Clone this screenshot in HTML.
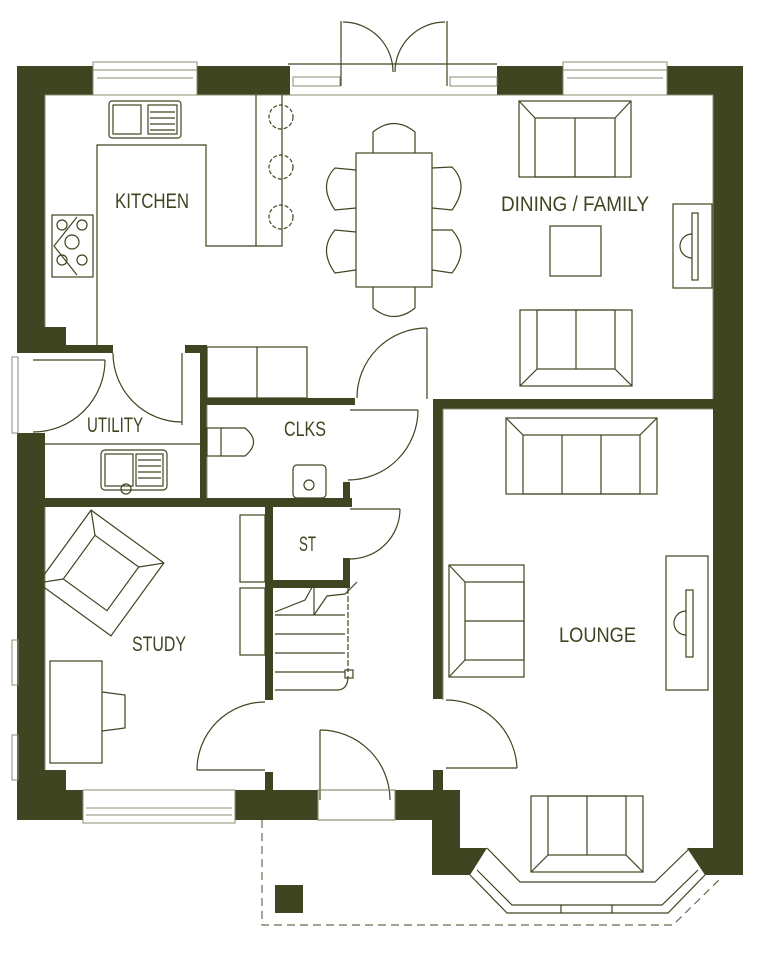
<!DOCTYPE html>
<html><head><meta charset="utf-8"><style>
html,body{margin:0;padding:0;background:#fff;}
svg{display:block;}
text{font-family:"Liberation Sans",sans-serif;fill:#3f4520;font-size:21px;}
</style></head><body>
<svg width="760" height="960" viewBox="0 0 760 960" xmlns="http://www.w3.org/2000/svg">
<g fill="#3f4520" stroke="none">
<!-- top walls -->
<rect x="17" y="66" width="76" height="29"/>
<rect x="197" y="66" width="93" height="29"/>
<rect x="497" y="66" width="66" height="29"/>
<rect x="667" y="66" width="76" height="29"/>
<!-- left wall -->
<rect x="17" y="66" width="28" height="280"/>
<rect x="17" y="327" width="49" height="20"/>
<rect x="17" y="345" width="96" height="8"/>
<rect x="17" y="433" width="28" height="387"/>
<rect x="17" y="770" width="49" height="22"/>
<!-- interior -->
<rect x="185" y="345" width="22" height="8"/>
<rect x="200" y="345" width="7" height="153"/>
<rect x="207" y="398" width="148" height="7"/>
<rect x="17" y="498" width="335" height="9"/>
<rect x="343" y="482" width="7" height="25"/>
<rect x="265" y="507" width="8" height="193"/>
<rect x="273" y="580" width="77" height="8"/>
<rect x="343" y="558" width="7" height="28"/>
<rect x="433" y="399" width="310" height="10"/>
<rect x="433" y="399" width="10" height="300"/>
<rect x="433" y="770" width="10" height="22"/>
<rect x="265" y="772" width="8" height="20"/>
<!-- right wall -->
<rect x="713" y="66" width="30" height="809"/>
<!-- bottom -->
<rect x="17" y="790" width="66" height="30"/>
<rect x="235" y="790" width="83" height="30"/>
<rect x="395" y="790" width="65" height="30"/>
<rect x="432" y="790" width="28" height="85"/>
<polygon points="432,848 487,848 470,875 432,875"/>
<polygon points="687,848 743,848 743,875 705,875"/>
<rect x="275" y="885" width="28" height="28"/>
</g>
<g fill="none" stroke="#8b8b70" stroke-width="1">
<rect x="93" y="62" width="104" height="33"/>
<line x1="93" y1="70" x2="197" y2="70"/><line x1="97" y1="78" x2="193" y2="78"/>
<rect x="563" y="62" width="104" height="33"/>
<line x1="563" y1="70" x2="667" y2="70"/><line x1="567" y1="78" x2="663" y2="78"/>
<rect x="83" y="790" width="152" height="33"/>
<line x1="86" y1="808" x2="232" y2="808"/><line x1="86" y1="815" x2="232" y2="815"/>
<rect x="293" y="77" width="47" height="9"/><rect x="450" y="77" width="47" height="9"/>
<rect x="12" y="357" width="6" height="76"/>
<rect x="12" y="640" width="6" height="45"/><rect x="12" y="735" width="6" height="45"/>
<line x1="45" y1="95" x2="713" y2="95"/>
<line x1="45" y1="95" x2="45" y2="327"/>
<line x1="443" y1="409" x2="713" y2="409"/>
<line x1="713" y1="95" x2="713" y2="399"/>
<line x1="443" y1="409" x2="443" y2="700"/>
<line x1="45" y1="507" x2="45" y2="770"/>
<line x1="207" y1="405" x2="207" y2="498"/>
</g>
<g fill="none" stroke="#3f4520" stroke-width="1.2">
<!-- bay -->
<polyline points="470,875 507,913 668,913 705,875"/>
<polyline points="477,870 512,905 662,905 698,870"/>
<polyline points="487,848 520,882 655,882 690,848"/>
<line x1="561" y1="905" x2="561" y2="913"/><line x1="612" y1="905" x2="612" y2="913"/>
<!-- dashed -->
<polyline points="262,820 262,925 673,925 722,877" stroke-dasharray="8,5" stroke="#6a6a50"/>
<!-- kitchen units -->
<polyline points="97,345 97,145 206,145 206,246 282,246 282,95"/>
<line x1="256" y1="95" x2="256" y2="246"/>
<g stroke-dasharray="4,2"><circle cx="281" cy="117" r="12"/><circle cx="281" cy="167" r="12"/><circle cx="281" cy="217" r="12"/></g>
<rect x="109" y="101" width="72" height="37" rx="3"/>
<rect x="113" y="105" width="28" height="29"/><rect x="148" y="105" width="29" height="29"/>
<line x1="150" y1="112" x2="175" y2="112"/><line x1="150" y1="118" x2="175" y2="118"/><line x1="150" y1="124" x2="175" y2="124"/><line x1="150" y1="130" x2="175" y2="130"/>
<rect x="52" y="215" width="41" height="62"/>
<circle cx="62" cy="225" r="5"/><circle cx="82" cy="225" r="5"/><circle cx="72" cy="242" r="7"/><circle cx="62" cy="260" r="5"/><circle cx="82" cy="260" r="5"/>
<polyline points="77,217 54,246 77,275"/>
<!-- dining table & chairs -->
<rect x="356" y="153" width="76" height="134"/>
<path d="M373,153 L373,132 Q394,115 415,132 L415,153"/>
<path d="M373,287 L373,308 Q394,325 415,308 L415,287"/>
<path d="M356,170 L335,168 Q318,185 335,210 L356,208"/>
<path d="M356,232 L335,230 Q318,250 335,273 L356,270"/>
<path d="M432,168 L452,167 Q470,185 452,210 L432,208"/>
<path d="M432,230 L452,230 Q470,250 452,273 L432,270"/>
<!-- dining sofas -->
<rect x="519" y="101" width="112" height="76"/>
<rect x="535" y="118" width="80" height="59"/><line x1="575" y1="118" x2="575" y2="177"/>
<line x1="519" y1="101" x2="535" y2="118"/><line x1="631" y1="101" x2="615" y2="118"/>
<rect x="550" y="226" width="51" height="50"/>
<rect x="520" y="310" width="112" height="76"/>
<rect x="537" y="310" width="78" height="59"/><line x1="576" y1="310" x2="576" y2="369"/>
<line x1="520" y1="386" x2="537" y2="369"/><line x1="632" y1="386" x2="615" y2="369"/>
<rect x="673" y="204" width="39" height="84"/><rect x="692" y="213" width="6" height="67"/>
<path d="M692,234 A12,12 0 0 0 692,258"/>
<!-- CLKS -->
<rect x="207" y="347" width="100" height="51"/><line x1="257" y1="347" x2="257" y2="398"/>
<rect x="207" y="428" width="14" height="28"/><path d="M221,428 L245,428 Q262,442 245,456 L221,456"/>
<rect x="293" y="465" width="33" height="33" rx="4"/><circle cx="309" cy="485" r="5"/>
<!-- utility -->
<line x1="45" y1="444" x2="200" y2="444"/>
<rect x="101" y="450" width="66" height="40" rx="4"/>
<rect x="105" y="454" width="28" height="32"/><rect x="136" y="454" width="27" height="32"/>
<line x1="138" y1="460" x2="161" y2="460"/><line x1="138" y1="466" x2="161" y2="466"/><line x1="138" y1="472" x2="161" y2="472"/><line x1="138" y1="478" x2="161" y2="478"/>
<circle cx="126" cy="489" r="5"/>
<!-- study -->
<g transform="rotate(36 101 573)"><rect x="56" y="528" width="90" height="90"/><rect x="74" y="546" width="54" height="54"/>
<line x1="56" y1="528" x2="74" y2="546"/><line x1="146" y1="528" x2="128" y2="546"/><line x1="56" y1="618" x2="74" y2="600"/></g>
<rect x="50" y="661" width="52" height="102"/>
<polyline points="102,692 125,695 125,728 102,731"/>
<rect x="240" y="515" width="25" height="67"/><rect x="240" y="588" width="25" height="67"/>
<!-- stairs -->
<line x1="275" y1="615" x2="345" y2="615"/><line x1="275" y1="634" x2="345" y2="634"/>
<line x1="275" y1="653" x2="345" y2="653"/><line x1="275" y1="672" x2="345" y2="672"/>
<polyline points="275,612 305,600 315,582"/><polyline points="314,615 327,596 345,594 357,582"/>
<line x1="314" y1="582" x2="314" y2="615"/>
<line x1="348" y1="588" x2="348" y2="672" stroke-dasharray="6,2"/>
<path d="M275,690 L337,690 Q348,690 348,676"/>
<rect x="345" y="670" width="8" height="8"/>
<!-- lounge -->
<rect x="506" y="418" width="151" height="76"/>
<rect x="523" y="435" width="117" height="59"/><line x1="562" y1="435" x2="562" y2="494"/><line x1="601" y1="435" x2="601" y2="494"/>
<line x1="506" y1="418" x2="523" y2="435"/><line x1="657" y1="418" x2="640" y2="435"/>
<rect x="449" y="565" width="75" height="112"/>
<rect x="465" y="582" width="59" height="78"/><line x1="465" y1="621" x2="524" y2="621"/>
<line x1="449" y1="565" x2="465" y2="582"/><line x1="449" y1="677" x2="465" y2="660"/>
<rect x="666" y="556" width="42" height="134"/><rect x="686" y="590" width="7" height="67"/>
<path d="M686,611 A12,12 0 0 0 686,635"/>
<rect x="531" y="796" width="112" height="76"/>
<rect x="548" y="796" width="78" height="59"/><line x1="587" y1="796" x2="587" y2="855"/>
<line x1="531" y1="872" x2="548" y2="855"/><line x1="643" y1="872" x2="626" y2="855"/>
<!-- doors -->
<line x1="288" y1="64" x2="497" y2="64"/>
<line x1="341" y1="21" x2="341" y2="86"/><path d="M343,22 A50,50 0 0 1 393,72"/>
<line x1="447" y1="21" x2="447" y2="86"/><path d="M445,22 A50,50 0 0 0 395,72"/>
<line x1="182" y1="353" x2="182" y2="425"/><path d="M113,353 A69,69 0 0 0 182,422"/>
<line x1="33" y1="360" x2="105" y2="360"/><path d="M105,360 A72,72 0 0 1 33,432"/>
<line x1="427" y1="328" x2="427" y2="399"/><path d="M427,328 A70,70 0 0 0 357,398"/>
<line x1="350" y1="410" x2="418" y2="410"/><path d="M418,410 A70,70 0 0 1 348,480"/>
<line x1="350" y1="509" x2="400" y2="509"/><path d="M400,509 A50,50 0 0 1 350,559"/>
<line x1="197" y1="770" x2="265" y2="770"/><path d="M197,770 A68,68 0 0 1 265,702"/>
<line x1="320" y1="730" x2="320" y2="800"/><path d="M320,730 A70,70 0 0 1 390,800"/>
<rect x="318" y="790" width="77" height="30" stroke="#8b8b70"/>
<line x1="446" y1="768" x2="517" y2="768"/><path d="M446,700 A71,71 0 0 1 517,768"/>
</g>
<text x="115" y="208" textLength="74" lengthAdjust="spacingAndGlyphs">KITCHEN</text>
<text x="501" y="211" textLength="148" lengthAdjust="spacingAndGlyphs">DINING / FAMILY</text>
<text x="87" y="432" textLength="56" lengthAdjust="spacingAndGlyphs">UTILITY</text>
<text x="284" y="436" textLength="42" lengthAdjust="spacingAndGlyphs">CLKS</text>
<text x="299" y="551" textLength="17" lengthAdjust="spacingAndGlyphs">ST</text>
<text x="132" y="651" textLength="54" lengthAdjust="spacingAndGlyphs">STUDY</text>
<text x="559" y="642" textLength="77" lengthAdjust="spacingAndGlyphs">LOUNGE</text>
</svg>
</body></html>
